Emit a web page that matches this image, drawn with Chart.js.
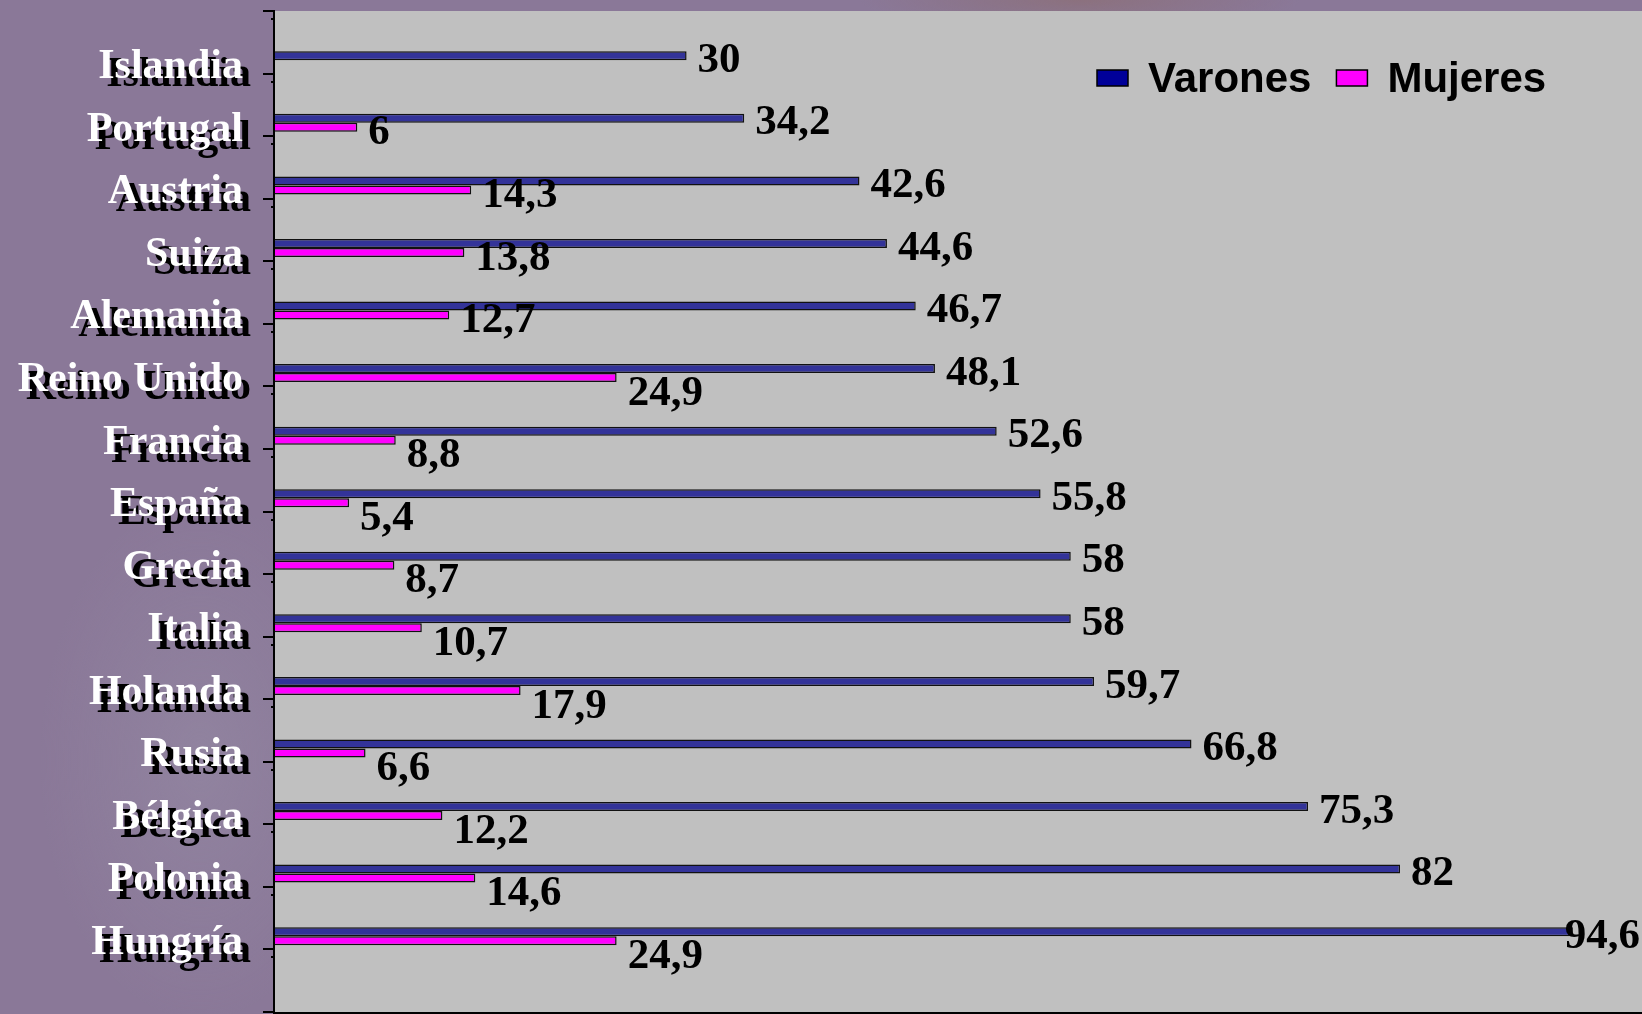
<!DOCTYPE html>
<html>
<head>
<meta charset="utf-8">
<script src="https://cdn.jsdelivr.net/npm/chart.js@4.4.1/dist/chart.umd.min.js"></script>
<style>
  html, body { margin: 0; padding: 0; overflow: hidden; }
  body {
    width: 1642px; height: 1014px;
    background: #8a7898;
    background-image:
      radial-gradient(ellipse 160px 260px at 200px 760px, rgba(150,140,165,0.55), rgba(150,140,165,0)),
      radial-gradient(ellipse 220px 30px at 1080px 0px, rgba(140,110,115,0.7), rgba(140,110,115,0));
  }
  #wrap { position: absolute; left: 0; top: 0; width: 1647px; height: 1014px; }
</style>
</head>
<body>
<div id="wrap"><canvas id="chart"></canvas></div>
<script>
const countries = ["Islandia", "Portugal", "Austria", "Suiza", "Alemania", "Reino Unido", "Francia",
  "España", "Grecia", "Italia", "Holanda", "Rusia", "Bélgica", "Polonia", "Hungría"];
const varones = [30, 34.2, 42.6, 44.6, 46.7, 48.1, 52.6, 55.8, 58, 58, 59.7, 66.8, 75.3, 82, 94.6];
const mujeres = [null, 6, 14.3, 13.8, 12.7, 24.9, 8.8, 5.4, 8.7, 10.7, 17.9, 6.6, 12.2, 14.6, 24.9];
const xMax = 100;

const SERIF = "'Liberation Serif', 'Times New Roman', serif";
const SANS = "'Liberation Sans', Arial, sans-serif";

// empty datasets push the two real bars to the lower part of each band, like the original
const spacer = () => ({ label: "", data: [], spacer: true });

const shadowPlugin = {
  id: "labelShadow",
  beforeDraw(chart) {
    const ctx = chart.ctx;
    ctx.shadowColor = "#000";
    ctx.shadowOffsetX = 8;
    ctx.shadowOffsetY = 8;
    ctx.shadowBlur = 0;
  },
  beforeDatasetsDraw(chart) {
    const ctx = chart.ctx;
    const a = chart.chartArea;
    ctx.shadowColor = "transparent";
    ctx.shadowOffsetX = 0;
    ctx.shadowOffsetY = 0;
    ctx.fillStyle = "#c0c0c0";
    ctx.fillRect(a.left, a.top, a.right - a.left, chart.height - a.top);
    ctx.strokeStyle = "#000";
    ctx.lineWidth = 2;
    ctx.beginPath();
    ctx.moveTo(a.left - 1, a.top);
    ctx.lineTo(a.left - 1, chart.height);
    ctx.moveTo(a.left - 2, a.bottom + 1);
    ctx.lineTo(a.right, a.bottom + 1);
    ctx.stroke();
  }
};

const valuePlugin = {
  id: "values",
  afterDatasetsDraw(chart) {
    const ctx = chart.ctx;
    ctx.save();
    ctx.font = "bold 43px " + SERIF;
    ctx.fillStyle = "#000";
    ctx.textBaseline = "middle";
    ctx.textAlign = "left";
    chart.data.datasets.forEach((ds, di) => {
      if (ds.spacer) return;
      chart.getDatasetMeta(di).data.forEach((bar, i) => {
        const v = ds.data[i];
        if (v == null) return;
        const txt = String(v).replace(".", ",");
        const w = ctx.measureText(txt).width;
        let x = bar.x + 11;
        if (x + w > 1640) x = 1640 - w;
        let dy = 5;
        if (ds.label === "Mujeres") dy = i >= 5 ? 16 : 6;
        ctx.fillText(txt, x, bar.y + dy);
      });
    });
    ctx.restore();
  }
};

const legendPlugin = {
  id: "customLegend",
  afterDraw(chart) {
    const ctx = chart.ctx;
    ctx.save();
    ctx.font = "bold 42px " + SANS;
    ctx.textBaseline = "middle";
    let x = 1097;
    const y = 78;
    chart.data.datasets.forEach(ds => {
      if (ds.spacer) return;
      ctx.fillStyle = ds.legendColor;
      ctx.fillRect(x, y - 8, 31, 16);
      ctx.strokeStyle = "#000";
      ctx.lineWidth = 1.5;
      ctx.strokeRect(x, y - 8, 31, 16);
      ctx.fillStyle = "#000";
      ctx.fillText(ds.label, x + 51, y + 2);
      x += 51 + ctx.measureText(ds.label).width + 25;
    });
    ctx.restore();
  }
};

new Chart(document.getElementById("chart"), {
  type: "bar",
  data: {
    labels: [...countries, ""],
    datasets: [
      spacer(), spacer(), spacer(), spacer(),
      {
        label: "Varones",
        data: varones,
        backgroundColor: "#333399",
        legendColor: "#000099",
        borderColor: "#111",
        borderWidth: 1.5
      },
      {
        label: "Mujeres",
        data: mujeres,
        backgroundColor: "#ff00ff",
        legendColor: "#ff00ff",
        borderColor: "#111",
        borderWidth: 1.5
      }
    ]
  },
  options: {
    indexAxis: "y",
    responsive: true,
    maintainAspectRatio: false,
    animation: false,
    categoryPercentage: 0.863,
    barPercentage: 1,
    layout: { padding: { top: 11, bottom: 2, left: 0, right: 0 } },
    plugins: {
      legend: { display: false },
      tooltip: { enabled: false }
    },
    scales: {
      x: {
        display: false,
        min: 0,
        max: xMax
      },
      y: {
        afterFit(scale) {
          scale.width = 275;
          scale.paddingTop = 0;
          scale.paddingBottom = 0;
        },
        border: { display: false },
        grid: {
          drawOnChartArea: false,
          drawTicks: true,
          tickLength: 12,
          color: "#000",
          lineWidth: 2
        },
        ticks: {
          color: "#fff",
          padding: 20,
          labelOffset: 25,
          autoSkip: false,
          font: { family: SERIF, size: 42, weight: "bold" }
        }
      }
    }
  },
  plugins: [shadowPlugin, valuePlugin, legendPlugin]
});
</script>
</body>
</html>
